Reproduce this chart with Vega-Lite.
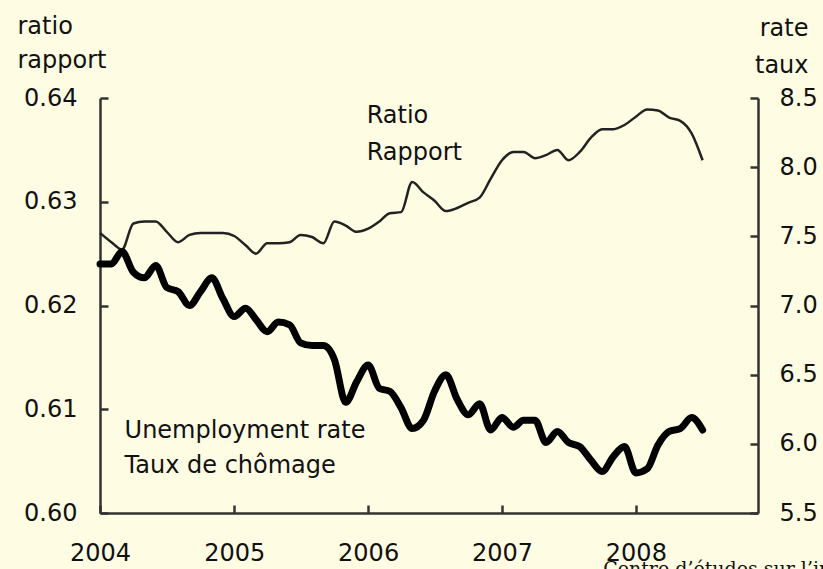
{
  "$schema": "https://vega.github.io/schema/vega-lite/v6.json",
  "width": 658,
  "height": 415,
  "autosize": {"type": "none"},
  "padding": {"left": 100, "top": 98, "right": 65, "bottom": 56},
  "background": "#fefde4",
  "config": {
    "view": {"stroke": null},
    "font": "DejaVu Sans",
    "axis": {
      "grid": false,
      "domainColor": "#333333",
      "domainWidth": 2.5,
      "tickColor": "#333333",
      "tickWidth": 2.5,
      "labelFont": "DejaVu Sans",
      "labelFontSize": 24,
      "labelColor": "#111111",
      "titleFont": "DejaVu Sans",
      "titleFontSize": 24,
      "titleFontWeight": "normal",
      "titleColor": "#111111"
    }
  },
  "datasets": {
    "series": [
      {"date": "2004-01-01", "ratio": 0.6270, "rate": 7.30},
      {"date": "2004-02-01", "ratio": 0.6261, "rate": 7.30},
      {"date": "2004-03-01", "ratio": 0.6254, "rate": 7.39},
      {"date": "2004-04-01", "ratio": 0.6279, "rate": 7.24},
      {"date": "2004-05-01", "ratio": 0.6281, "rate": 7.20},
      {"date": "2004-06-01", "ratio": 0.6281, "rate": 7.29},
      {"date": "2004-07-01", "ratio": 0.6271, "rate": 7.13},
      {"date": "2004-08-01", "ratio": 0.6261, "rate": 7.10},
      {"date": "2004-09-01", "ratio": 0.6268, "rate": 7.00},
      {"date": "2004-10-01", "ratio": 0.6270, "rate": 7.10},
      {"date": "2004-11-01", "ratio": 0.6270, "rate": 7.20},
      {"date": "2004-12-01", "ratio": 0.6270, "rate": 7.05},
      {"date": "2005-01-01", "ratio": 0.6267, "rate": 6.92},
      {"date": "2005-02-01", "ratio": 0.6258, "rate": 6.98},
      {"date": "2005-03-01", "ratio": 0.6250, "rate": 6.90},
      {"date": "2005-04-01", "ratio": 0.6260, "rate": 6.81},
      {"date": "2005-05-01", "ratio": 0.6260, "rate": 6.88},
      {"date": "2005-06-01", "ratio": 0.6261, "rate": 6.86},
      {"date": "2005-07-01", "ratio": 0.6268, "rate": 6.73},
      {"date": "2005-08-01", "ratio": 0.6266, "rate": 6.71},
      {"date": "2005-09-01", "ratio": 0.6260, "rate": 6.71},
      {"date": "2005-10-01", "ratio": 0.6281, "rate": 6.61},
      {"date": "2005-11-01", "ratio": 0.6277, "rate": 6.30},
      {"date": "2005-12-01", "ratio": 0.6271, "rate": 6.45},
      {"date": "2006-01-01", "ratio": 0.6274, "rate": 6.57},
      {"date": "2006-02-01", "ratio": 0.6281, "rate": 6.40},
      {"date": "2006-03-01", "ratio": 0.6289, "rate": 6.38},
      {"date": "2006-04-01", "ratio": 0.6290, "rate": 6.26},
      {"date": "2006-05-01", "ratio": 0.6319, "rate": 6.11},
      {"date": "2006-06-01", "ratio": 0.6309, "rate": 6.17},
      {"date": "2006-07-01", "ratio": 0.6301, "rate": 6.38},
      {"date": "2006-08-01", "ratio": 0.6291, "rate": 6.50},
      {"date": "2006-09-01", "ratio": 0.6294, "rate": 6.32},
      {"date": "2006-10-01", "ratio": 0.6299, "rate": 6.21},
      {"date": "2006-11-01", "ratio": 0.6304, "rate": 6.29},
      {"date": "2006-12-01", "ratio": 0.6322, "rate": 6.10},
      {"date": "2007-01-01", "ratio": 0.6340, "rate": 6.19},
      {"date": "2007-02-01", "ratio": 0.6348, "rate": 6.12},
      {"date": "2007-03-01", "ratio": 0.6348, "rate": 6.17},
      {"date": "2007-04-01", "ratio": 0.6342, "rate": 6.17},
      {"date": "2007-05-01", "ratio": 0.6345, "rate": 6.01},
      {"date": "2007-06-01", "ratio": 0.6350, "rate": 6.09},
      {"date": "2007-07-01", "ratio": 0.6340, "rate": 6.01},
      {"date": "2007-08-01", "ratio": 0.6348, "rate": 5.98},
      {"date": "2007-09-01", "ratio": 0.6362, "rate": 5.88},
      {"date": "2007-10-01", "ratio": 0.6370, "rate": 5.80},
      {"date": "2007-11-01", "ratio": 0.6370, "rate": 5.91},
      {"date": "2007-12-01", "ratio": 0.6374, "rate": 5.98},
      {"date": "2008-01-01", "ratio": 0.6382, "rate": 5.79},
      {"date": "2008-02-01", "ratio": 0.6389, "rate": 5.82},
      {"date": "2008-03-01", "ratio": 0.6388, "rate": 5.99},
      {"date": "2008-04-01", "ratio": 0.6381, "rate": 6.09},
      {"date": "2008-05-01", "ratio": 0.6378, "rate": 6.11},
      {"date": "2008-06-01", "ratio": 0.6366, "rate": 6.19},
      {"date": "2008-07-01", "ratio": 0.6340, "rate": 6.10}
    ],
    "notes": [
      {"date": "2005-12-28", "pos": 0.6376, "label": "Ratio", "kind": "sans"},
      {"date": "2005-12-28", "pos": 0.6340, "label": "Rapport", "kind": "sans"},
      {"date": "2004-03-08", "pos": 0.6072, "label": "Unemployment rate", "kind": "sans"},
      {"date": "2004-03-08", "pos": 0.6039, "label": "Taux de chômage", "kind": "sans"},
      {"date": "2007-10-04", "pos": 0.5940, "label": "Centre d’études sur l’intégration et la mondialisation", "kind": "serif"}
    ]
  },
  "encoding": {
    "x": {
      "field": "date",
      "type": "temporal",
      "scale": {
        "type": "utc",
        "domain": [
          {"year": 2004, "month": 1, "date": 1, "utc": true},
          {"year": 2008, "month": 11, "date": 29, "utc": true}
        ]
      },
      "axis": {
        "title": null,
        "format": "%Y",
        "values": [
          {"year": 2004, "month": 1, "date": 1, "utc": true},
          {"year": 2005, "month": 1, "date": 1, "utc": true},
          {"year": 2006, "month": 1, "date": 1, "utc": true},
          {"year": 2007, "month": 1, "date": 1, "utc": true},
          {"year": 2008, "month": 1, "date": 1, "utc": true}
        ],
        "tickSize": -8,
        "labelPadding": 36,
        "labelFlush": false,
        "labelOverlap": false
      }
    }
  },
  "layer": [
    {
      "data": {"name": "series"},
      "mark": {"type": "line", "color": "#222222", "strokeWidth": 2.5, "interpolate": "monotone"},
      "encoding": {
        "y": {
          "field": "ratio",
          "type": "quantitative",
          "scale": {"domain": [0.6, 0.64], "zero": false, "nice": false},
          "axis": {
            "orient": "left",
            "values": [0.6, 0.61, 0.62, 0.63, 0.64],
            "format": ".2f",
            "tickSize": -8,
            "labelPadding": 31,
            "title": ["ratio", "rapport"],
            "titleAngle": 0,
            "titleAlign": "left",
            "titleBaseline": "alphabetic",
            "titleX": -83,
            "titleY": -65,
            "titleLineHeight": 34
          }
        }
      }
    },
    {
      "data": {"name": "series"},
      "mark": {"type": "line", "color": "#000000", "strokeWidth": 7, "interpolate": "monotone", "strokeJoin": "round", "strokeCap": "round"},
      "encoding": {
        "y": {
          "field": "rate",
          "type": "quantitative",
          "scale": {"domain": [5.5, 8.5], "zero": false, "nice": false},
          "axis": {
            "orient": "right",
            "values": [5.5, 6.0, 6.5, 7.0, 7.5, 8.0, 8.5],
            "format": ".1f",
            "tickSize": -8,
            "labelPadding": 29,
            "title": ["rate", "taux"],
            "titleAngle": 0,
            "titleAlign": "right",
            "titleBaseline": "alphabetic",
            "titleX": 50,
            "titleY": -63,
            "titleLineHeight": 37
          }
        }
      }
    },
    {
      "data": {"name": "notes"},
      "transform": [{"filter": "datum.kind === 'sans'"}],
      "mark": {"type": "text", "align": "left", "baseline": "alphabetic", "font": "DejaVu Sans", "fontSize": 24, "color": "#111111"},
      "encoding": {
        "y": {"field": "pos", "type": "quantitative", "scale": {"domain": [0.6, 0.64], "zero": false, "nice": false}, "axis": null},
        "text": {"field": "label"}
      }
    },
    {
      "data": {"name": "notes"},
      "transform": [{"filter": "datum.kind === 'serif'"}],
      "mark": {"type": "text", "align": "left", "baseline": "alphabetic", "font": "DejaVu Serif", "fontSize": 19, "color": "#111111"},
      "encoding": {
        "y": {"field": "pos", "type": "quantitative", "scale": {"domain": [0.6, 0.64], "zero": false, "nice": false}, "axis": null},
        "text": {"field": "label"}
      }
    }
  ],
  "resolve": {"scale": {"y": "independent"}}
}
